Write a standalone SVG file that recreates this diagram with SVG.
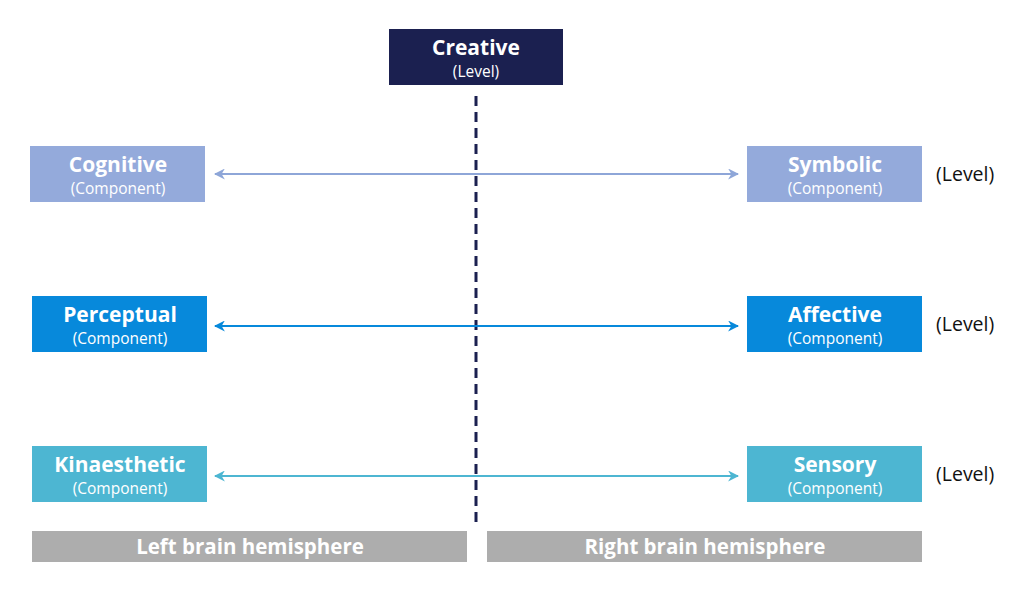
<svg xmlns="http://www.w3.org/2000/svg" width="1024" height="591" viewBox="0 0 1024 591">
<style>
.t{font-family:"Open Sans","Liberation Sans",Arial,sans-serif;font-weight:bold;font-size:21px;fill:#fff;text-anchor:middle}
.s{font-family:"Open Sans","Liberation Sans",Arial,sans-serif;font-size:15.5px;fill:#fff;text-anchor:middle}
.lv{font-family:"Open Sans","Liberation Sans",Arial,sans-serif;font-size:19.5px;fill:#111}
.bar{font-family:"Open Sans","Liberation Sans",Arial,sans-serif;font-weight:bold;font-size:20.5px;fill:#fff;text-anchor:middle}
</style>
<defs>
<marker id="a1" viewBox="0 0 10 10" refX="9" refY="5" markerWidth="5.5" markerHeight="5.5" orient="auto-start-reverse"><path d="M0,0 L10,5 L0,10 L3,5 Z" fill="#8EA6D8"/></marker>
<marker id="a2" viewBox="0 0 10 10" refX="9" refY="5" markerWidth="5.5" markerHeight="5.5" orient="auto-start-reverse"><path d="M0,0 L10,5 L0,10 L3,5 Z" fill="#0789DB"/></marker>
<marker id="a3" viewBox="0 0 10 10" refX="9" refY="5" markerWidth="5.5" markerHeight="5.5" orient="auto-start-reverse"><path d="M0,0 L10,5 L0,10 L3,5 Z" fill="#4DB6D2"/></marker>
</defs>
<rect width="1024" height="591" fill="#fff"/>
<g id="connectors">
<line x1="476" y1="96" x2="476" y2="528" stroke="#1B2050" stroke-width="3" stroke-dasharray="10,6"/>
<line x1="215" y1="174" x2="738" y2="174" stroke="#8EA6D8" stroke-width="2" marker-start="url(#a1)" marker-end="url(#a1)"/>
<line x1="215" y1="326" x2="738" y2="326" stroke="#0789DB" stroke-width="2" marker-start="url(#a2)" marker-end="url(#a2)"/>
<line x1="215" y1="476" x2="738" y2="476" stroke="#4DB6D2" stroke-width="2" marker-start="url(#a3)" marker-end="url(#a3)"/>
</g>
<g id="creative"><rect x="389" y="29" width="174" height="56" fill="#1B2050"/><text class="t" x="476" y="55">Creative</text><text class="s" x="476" y="77">(Level)</text></g>
<g id="cognitive"><rect x="30" y="146" width="175" height="56" fill="#94AADB"/><text class="t" x="118" y="172">Cognitive</text><text class="s" x="118" y="194">(Component)</text></g>
<g id="symbolic"><rect x="747" y="146" width="175" height="56" fill="#94AADB"/><text class="t" x="835" y="172">Symbolic</text><text class="s" x="835" y="194">(Component)</text></g>
<g id="perceptual"><rect x="32" y="296" width="175" height="56" fill="#0789DB"/><text class="t" x="120" y="322">Perceptual</text><text class="s" x="120" y="344">(Component)</text></g>
<g id="affective"><rect x="747" y="296" width="175" height="56" fill="#0789DB"/><text class="t" x="835" y="322">Affective</text><text class="s" x="835" y="344">(Component)</text></g>
<g id="kinaesthetic"><rect x="32" y="446" width="175" height="56" fill="#4DB6D2"/><text class="t" x="120" y="472">Kinaesthetic</text><text class="s" x="120" y="494">(Component)</text></g>
<g id="sensory"><rect x="747" y="446" width="175" height="56" fill="#4DB6D2"/><text class="t" x="835" y="472">Sensory</text><text class="s" x="835" y="494">(Component)</text></g>
<g id="levels"><text class="lv" x="936" y="181">(Level)</text><text class="lv" x="936" y="331">(Level)</text><text class="lv" x="936" y="481">(Level)</text></g>
<g id="left-hemisphere"><rect x="32" y="531" width="435" height="31" fill="#ADADAD"/><text class="bar" x="250" y="554">Left brain hemisphere</text></g>
<g id="right-hemisphere"><rect x="487" y="531" width="435" height="31" fill="#ADADAD"/><text class="bar" x="705" y="554">Right brain hemisphere</text></g>
</svg>
